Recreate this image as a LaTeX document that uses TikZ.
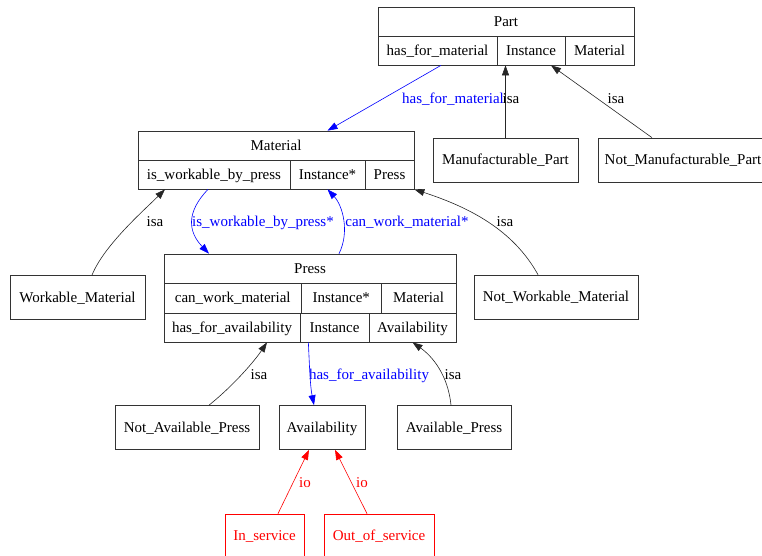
\documentclass[tikz,border=0pt]{standalone}
\usepackage{xcolor}
\usepackage{fontspec}
\setmainfont{Liberation Serif}
\usepackage{tikz}
\usetikzlibrary{arrows.meta}
\usetikzlibrary{calc}

\begin{document}
\begin{tikzpicture}[x=1pt, y=-1pt,
        every node/.style={font=\fontsize{15}{17}\selectfont, text height=9.8pt, text depth=0pt},
        cell/.style={draw=black!80, line width=0.7pt, rectangle, inner sep=0pt},
        box/.style={cell, minimum height=44pt},
        lnk/.style={line width=0.6pt, -{Triangle[length=10pt, width=7pt]}},
        isa/.style={lnk, black!85},
        rel/.style={lnk, blue},
        io/.style={lnk, red},
        lbl/.style={inner sep=0pt}]
            \useasboundingbox (0,0) rectangle (762,556);

            % Part record
            \node (part) at (506,21.5) [cell, minimum width=256pt, minimum height=29pt] {Part};
            \node (part1) at (437.5,50.5) [cell, minimum width=119pt, minimum height=29pt] {has\_for\_material};
            \node (part2) at (531,50.5) [cell, minimum width=68pt, minimum height=29pt] {Instance};
            \node (part3) at (599.5,50.5) [cell, minimum width=69pt, minimum height=29pt] {Material};

            % Material record
            \node (mat) at (276,145.5) [cell, minimum width=276pt, minimum height=29pt] {Material};
            \node (mat1) at (214,174.5) [cell, minimum width=152pt, minimum height=29pt] {is\_workable\_by\_press};
            \node (mat2) at (327.5,174.5) [cell, minimum width=75pt, minimum height=29pt] {Instance*};
            \node (mat3) at (389.5,174.5) [cell, minimum width=49pt, minimum height=29pt] {Press};

            % Press record
            \node (press) at (310,268.5) [cell, minimum width=292pt, minimum height=29pt] {Press};
            \node (press11) at (232.75,298) [cell, minimum width=137.5pt, minimum height=30pt] {can\_work\_material};
            \node (press12) at (341.25,298) [cell, minimum width=79.5pt, minimum height=30pt] {Instance*};
            \node (press13) at (418.5,298) [cell, minimum width=75pt, minimum height=30pt] {Material};
            \node (press21) at (232,327.5) [cell, minimum width=136pt, minimum height=29pt] {has\_for\_availability};
            \node (press22) at (334.5,327.5) [cell, minimum width=69pt, minimum height=29pt] {Instance};
            \node (press23) at (412.5,327.5) [cell, minimum width=87pt, minimum height=29pt] {Availability};

            % plain classes
            \node (manu) at (505.5,160) [box, minimum width=145pt] {Manufacturable\_Part};
            \node (nmanu) at (683,160) [box, minimum width=170pt] {Not\_Manufacturable\_Part};
            \node (wm) at (77.5,297.5) [box, minimum width=135pt] {Workable\_Material};
            \node (nwm) at (556,297) [box, minimum width=164pt] {Not\_Workable\_Material};
            \node (nap) at (187,427.5) [box, minimum width=144pt] {Not\_Available\_Press};
            \node (avail) at (322,427.5) [box, minimum width=86pt] {Availability};
            \node (ap) at (454,427.5) [box, minimum width=114pt] {Available\_Press};
            \node (ins) at (264.5,536) [box, draw=red, text=red, minimum width=79pt] {In\_service};
            \node (outs) at (379,536) [box, draw=red, text=red, minimum width=110pt] {Out\_of\_service};

            % relations
            \draw[rel] ([xshift=3.5pt]part1.south) -- (mat.north -| mat2.center);
            \draw[rel] ([xshift=-6pt]mat1.south) .. controls +(-22,23) and +(-21,-22) .. ([xshift=-101pt]press.north);
            \draw[rel] ([xshift=29pt]press.north) .. controls +(11,-22) and +(15,16) .. (mat2.south);
            \draw[rel] ([xshift=8pt]press21.south east) .. controls +(1,20) and +(-4,-20) .. ([xshift=-8pt]avail.north);

            % isa links
            \draw[isa] (manu.north) -- (manu.north |- part2.south);
            \draw[isa] ([xshift=-31pt]nmanu.north) -- ([xshift=20pt]part2.south);
            \draw[isa] ([xshift=14.5pt]wm.north) .. controls +(12,-30) and +(-20,20) .. ([xshift=-49pt]mat1.south);
            \draw[isa] ([xshift=-18pt]nwm.north) .. controls +(-25,-45) and +(55,18) .. (mat3.south east);
            \draw[isa] ([xshift=22pt]nap.north) .. controls +(25,-20) and +(-12,18) .. ([xshift=35pt]press21.south);
            \draw[isa] ([xshift=-3pt]ap.north) .. controls +(-3,-30) and +(20,14) .. (press23.south);

            % instances
            \draw[io] ([xshift=13.5pt]ins.north) -- ([xshift=-13pt]avail.south);
            \draw[io] ([xshift=-12pt]outs.north) -- ([xshift=13pt]avail.south);

            % labels
            \node (lmat) at (453,99) [lbl, blue] {has\_for\_material};
            \node (lwork) at (263,222) [lbl, blue] {is\_workable\_by\_press*};
            \node (lcan) at (407,222) [lbl, blue] {can\_work\_material*};
            \node (lavail) at (369,375) [lbl, blue] {has\_for\_availability};
            \foreach \x/\y [count=\i] in {511/99, 616/99, 155/222, 505/222, 259/375, 453/375} {
                \node (isa\i) at (\x,\y) [lbl] {isa};
            }
            \foreach \x [count=\i] in {305, 362} {
                \node (io\i) at (\x,483) [lbl, red] {io};
            }
        \end{tikzpicture}
\end{document}
